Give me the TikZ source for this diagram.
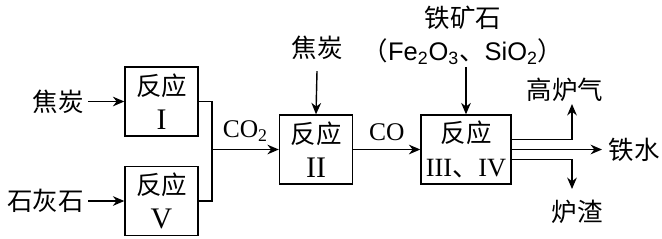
\documentclass[tikz,border=0pt]{standalone}
\usepackage{fontspec}
\setmainfont{Liberation Serif}
\setsansfont{Liberation Sans}
\newfontfamily\cjk{Noto Sans CJK SC}
\newcommand{\rnum}[1]{{\fontsize{17}{19}\selectfont #1}}
\usetikzlibrary{arrows.meta,positioning}

\begin{document}
\begin{tikzpicture}[x=0.02cm,y=-0.02cm,>={Stealth[length=6.5pt,width=5.5pt]},
  font=\fontsize{14.5}{19}\selectfont,line width=0.8pt,
  reactor/.style={draw,minimum width=1.46cm,minimum height=1.38cm,align=center,inner sep=0pt},
  feed/.style={->}]
  \useasboundingbox (0,0) rectangle (662,238);
  \node[reactor] (r1) at (161.5,101.5) {{\cjk 反应}\\\rnum{I}};
  \node[reactor] (r5) at (161.5,201) {{\cjk 反应}\\\rnum{V}};
  \node[reactor] (r2) at (316,149.5) {{\cjk 反应}\\\rnum{II}};
  \node[reactor,minimum width=1.8cm] (r3) at (466,149.5)
    {{\cjk 反应}\\{\fontsize{15}{19}\selectfont III{\cjk 、}IV}};
  \node[anchor=east,inner sep=2pt] (coke1) at (88,101.5) {\cjk 焦炭};
  \node[anchor=east,inner sep=2pt] (lime) at (88,201) {\cjk 石灰石};
  \draw[feed] (coke1.east) -- (r1.west);
  \draw[feed] (lime.east) -- (r5.west);
  \coordinate (join) at (212,149.5);
  \draw (r1.east) -| (join) |- (r5.east);
  \draw[feed] (join) -- node[above=1pt]{CO\textsubscript{2}} (r2.west);
  \node[inner sep=1pt] (coke2) at (317,48) {\cjk 焦炭};
  \draw[feed] ([yshift=-5pt]coke2.south) -- (r2.north);
  \draw[feed] (r2.east) -- node[above=1pt]{CO} (r3.west);
  \node (ore) at (463,18) {\cjk 铁矿石};
  \node[inner sep=1pt] (oxides) at (463,52) {{\cjk （}\textsf{Fe\textsubscript{2}O\textsubscript{3}}{\cjk 、}\textsf{SiO\textsubscript{2}}{\cjk ）}};
  \draw[feed] (oxides.south -| r3.north) -- (r3.north);
  % products
  \node (gas) at (565,90) {\cjk 高炉气};
  \node[anchor=west] (iron) at (602,149.5) {\cjk 铁水};
  \node (slag) at (577,212) {\cjk 炉渣};
  \coordinate (gasend) at (572,104);
  \coordinate (slagend) at (572,189);
  \draw[feed] ([yshift=0.2cm]r3.east) -| (gasend);
  \draw[feed] (r3.east) -- (iron.west);
  \draw[feed] ([yshift=-0.2cm]r3.east) -| (slagend);
\end{tikzpicture}
\end{document}
